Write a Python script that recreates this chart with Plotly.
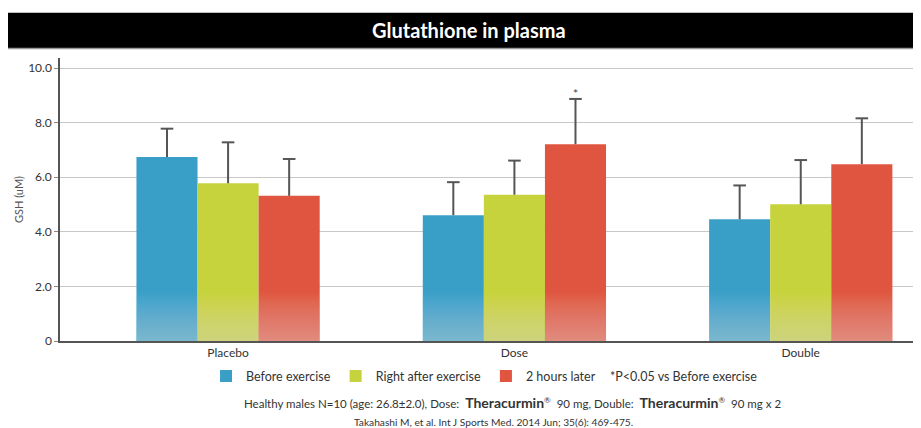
import plotly.graph_objects as go

categories = ["Placebo", "Dose", "Double"]
series_names = ["Before exercise", "Right after exercise", "2 hours later"]
before = [6.74, 4.61, 4.46]
right_after = [5.78, 5.36, 5.01]
later = [5.32, 7.21, 6.48]
before_err = [1.04, 1.21, 1.24]
right_after_err = [1.50, 1.25, 1.62]
later_err = [1.35, 1.66, 1.68]
colors = ["#3a9fc6", "#c6d33c", "#e0553f"]
y_ticks = [0, 2, 4, 6, 8, 10]
y_tick_labels = ["0", "2.0", "4.0", "6.0", "8.0", "10.0"]

values = [before, right_after, later]
errors = [before_err, right_after_err, later_err]

FONT = "Lato"
bargap = 0.36
n_series = len(values)
bar_w = (1 - bargap) / n_series
xs = list(range(len(categories)))

fig = go.Figure()

for i, (name, vals, col) in enumerate(zip(series_names, values, colors)):
    fig.add_trace(go.Bar(
        x=xs, y=vals, name=name, offsetgroup=str(i),
        marker=dict(color=col, line=dict(width=0)),
    ))

# soft light gradient toward the bottom of each bar
layers = [0.075 * k for k in range(1, 25)]
for i, vals in enumerate(values):
    for h in layers:
        fig.add_trace(go.Bar(
            x=xs, y=[min(v, h) for v in vals], offsetgroup=str(i),
            marker=dict(color="rgba(255,255,255,0.02)", line=dict(width=0)),
            showlegend=False, hoverinfo="skip",
        ))

# upper-only error bars (line from bar top + cap)
for i, (vals, errs) in enumerate(zip(values, errors)):
    ex = [c + (i - (n_series - 1) / 2) * bar_w for c in xs]
    fig.add_trace(go.Scatter(
        x=ex, y=[v + e for v, e in zip(vals, errs)], mode="markers",
        marker=dict(symbol="line-ew", size=9, line=dict(color="#555555", width=2)),
        error_y=dict(type="data", symmetric=False, array=[0] * len(errs), arrayminus=errs,
                     color="#555555", thickness=2, width=0),
        showlegend=False, hoverinfo="skip",
    ))

# significance star above the Dose / 2 hours later bar
d = categories.index("Dose")
fig.add_annotation(x=d + bar_w, y=later[d] + later_err[d], xref="x", yref="y",
                   text="*", showarrow=False, yanchor="bottom", yshift=-4,
                   font=dict(family=FONT, size=12, color="#444"))

fig.update_layout(
    width=913, height=420,
    margin=dict(l=52, r=0, t=50, b=87),
    paper_bgcolor="white", plot_bgcolor="white",
    barmode="group", bargap=bargap, bargroupgap=0,
    font=dict(family=FONT, size=12, color="#333"),
    showlegend=True,
    legend=dict(orientation="h", x=0.1696, xanchor="left", y=-0.0724, yanchor="top",
                font=dict(family=FONT, size=12.5, color="#333"), itemwidth=30,
                traceorder="normal", bgcolor="rgba(0,0,0,0)"),
    xaxis=dict(range=[-0.587, 2.42], tickvals=xs, ticktext=categories,
               showline=True, linecolor="#555", linewidth=1.5,
               ticks="", tickfont=dict(family=FONT, size=12, color="#333"), showgrid=False,
               zeroline=False),
    yaxis=dict(range=[0, 10.37], tickvals=y_ticks, ticktext=y_tick_labels,
               showline=True, linecolor="#555", linewidth=1.5, ticks="outside", ticklen=4,
               tickcolor="#888", showgrid=True, gridcolor="#c8c8c8", gridwidth=1,
               tickfont=dict(family=FONT, size=12, color="#333"),
               title=dict(text="GSH (uM)", font=dict(family=FONT, size=11, color="#555"), standoff=2),
               zeroline=False),
)

# title banner
fig.add_shape(type="rect", xref="paper", yref="paper", x0=-0.0604, x1=1.0, y0=1.035, y1=1.160,
              fillcolor="black", line=dict(width=0), layer="above")
fig.add_shape(type="line", xref="paper", yref="paper", x0=-0.0604, x1=1.0, y0=1.034, y1=1.034,
              line=dict(color="#999", width=1.5))
fig.add_annotation(x=0.475, y=1.099, xref="paper", yref="paper", xanchor="center", yanchor="middle",
                   text="<b>Glutathione in plasma</b>",
                   showarrow=False, font=dict(family=FONT, size=20, color="white"))

fig.add_annotation(x=0.6365, y=-0.127, xref="paper", yref="paper", xanchor="left", yanchor="middle",
                   text="*P<0.05 vs Before exercise", showarrow=False,
                   font=dict(family=FONT, size=12.5, color="#333"))
fig.add_annotation(x=0.526, y=-0.219, xref="paper", yref="paper", xanchor="center", yanchor="middle",
                   text=("Healthy males N=10 (age: 26.8±2.0), Dose:  "
                         "<span style='font-size:14px'><b>Theracurmin</b></span><sup>®</sup>  90 mg, Double:  "
                         "<span style='font-size:14px'><b>Theracurmin</b></span><sup>®</sup>  90 mg x 2"),
                   showarrow=False, font=dict(family=FONT, size=11.5, color="#333"))
fig.add_annotation(x=0.503, y=-0.286, xref="paper", yref="paper", xanchor="center", yanchor="middle",
                   text="Takahashi M, et al. Int J Sports Med. 2014 Jun; 35(6): 469-475.",
                   showarrow=False, font=dict(family=FONT, size=10.2, color="#333"))

fig.write_html("out.html")
